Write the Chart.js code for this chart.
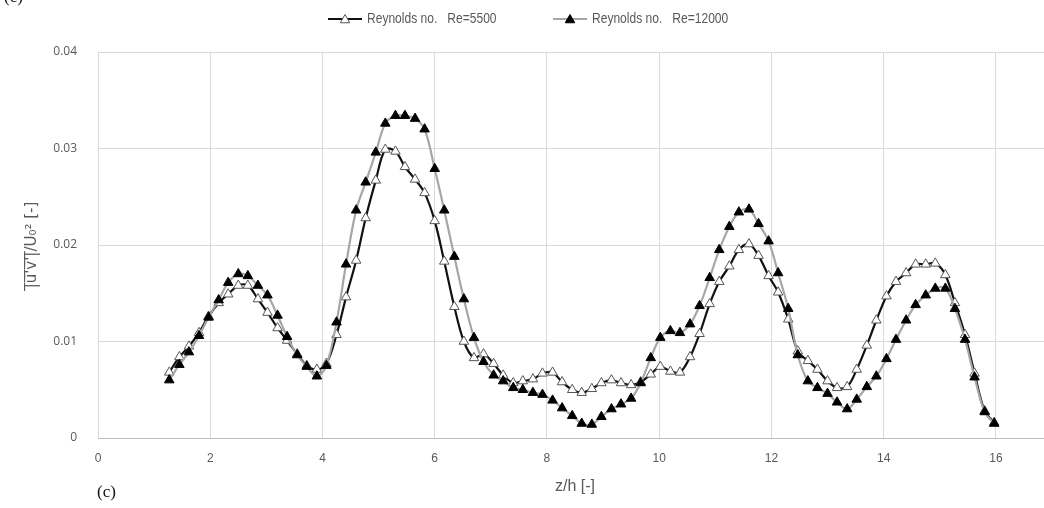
<!DOCTYPE html>
<html>
<head>
<meta charset="utf-8">
<script src="https://cdn.jsdelivr.net/npm/chart.js@4.4.1/dist/chart.umd.min.js"></script>
<style>
  html, body { margin: 0; padding: 0; background: #fff; overflow: hidden; width: 1044px; height: 508px; }
  #wrap { position: absolute; left: 0; top: 0; width: 1080px; height: 508px; }
  .lab { position: absolute; font-family: "Liberation Serif", "DejaVu Serif", serif; font-size: 17px; color: #111; }
</style>
</head>
<body>
<div id="wrap"><canvas id="c"></canvas></div>
<div class="lab" style="left:4px; top:-13px;">(c)</div>
<div class="lab" style="left:97px; top:482px;">(c)</div>
<script>
// ---- data ----
const zValues = [1.27,1.45,1.62,1.80,1.97,2.15,2.32,2.50,2.67,2.85,3.02,3.20,3.37,3.55,3.72,3.90,4.07,4.25,4.42,4.60,4.77,4.95,5.12,5.30,5.47,5.65,5.82,6.00,6.17,6.35,6.52,6.70,6.87,7.05,7.22,7.40,7.57,7.75,7.92,8.10,8.27,8.45,8.62,8.80,8.97,9.15,9.32,9.50,9.67,9.85,10.02,10.20,10.37,10.55,10.72,10.90,11.07,11.25,11.42,11.60,11.77,11.95,12.12,12.30,12.47,12.65,12.82,13.00,13.17,13.35,13.52,13.70,13.87,14.05,14.22,14.40,14.57,14.75,14.92,15.10,15.27,15.45,15.62,15.80,15.97];

const re5500 = [0.0068,0.0084,0.0095,0.0109,0.0126,0.0140,0.0149,0.0158,0.0158,0.0144,
  0.0130,0.0114,0.0101,0.0087,0.0075,0.0071,0.0077,0.0107,0.0146,0.0184,
  0.0228,0.0267,0.0299,0.0297,0.0281,0.0268,0.0254,0.0225,0.0183,0.0136,
  0.0100,0.0083,0.0087,0.0077,0.0065,0.0057,0.0059,0.0061,0.0067,0.0068,
  0.0058,0.0050,0.0047,0.0051,0.0057,0.0060,0.0057,0.0055,0.0058,0.0066,
  0.0074,0.0069,0.0068,0.0084,0.0108,0.0139,0.0162,0.0178,0.0195,0.0201,
  0.0189,0.0168,0.0151,0.0123,0.0090,0.0080,0.0071,0.0059,0.0052,0.0053,
  0.0071,0.0096,0.0122,0.0147,0.0162,0.0171,0.0180,0.0180,0.0181,0.0169,
  0.0140,0.0107,0.0067,0.0028,0.0016];

const re12000 = [0.0060,0.0076,0.0089,0.0106,0.0125,0.0143,0.0161,0.0170,0.0168,0.0158,
  0.0148,0.0127,0.0105,0.0086,0.0074,0.0064,0.0075,0.0120,0.0180,0.0236,
  0.0265,0.0296,0.0326,0.0334,0.0334,0.0331,0.0320,0.0279,0.0236,0.0188,
  0.0144,0.0104,0.0079,0.0065,0.0059,0.0052,0.0050,0.0047,0.0045,0.0039,
  0.0031,0.0023,0.0015,0.0014,0.0022,0.0030,0.0035,0.0041,0.0057,0.0083,
  0.0104,0.0111,0.0109,0.0118,0.0137,0.0166,0.0195,0.0219,0.0234,0.0237,
  0.0222,0.0204,0.0171,0.0134,0.0086,0.0059,0.0052,0.0046,0.0037,0.0030,
  0.0040,0.0053,0.0064,0.0082,0.0102,0.0122,0.0138,0.0148,0.0155,0.0155,
  0.0134,0.0102,0.0063,0.0027,0.0015];

const seriesLabels = ["Reynolds no.   Re=5500", "Reynolds no.   Re=12000"];
const xTickValues = [0, 2, 4, 6, 8, 10, 12, 14, 16];
const yTickValues = [0, 0.01, 0.02, 0.03, 0.04];
const xTitle = "z/h [-]";
const yTitle = "|\u0305u\u0305'\u0305v\u0305'\u0305|\u0305/U\u2080\u00B2 [-]";

// ---- chart ----
const TXT = "#595959";
const GRID = "#d9d9d9";

const legendPlugin = {
  id: 'customLegend',
  afterDraw(chart) {
    const ctx = chart.ctx;
    const slots = [328, 553];
    const y = 19;
    ctx.save();
    chart.data.datasets.forEach((ds, i) => {
      const x0 = slots[i];
      ctx.strokeStyle = ds.borderColor;
      ctx.lineWidth = 2;
      ctx.beginPath();
      ctx.moveTo(x0, y); ctx.lineTo(x0 + 34, y);
      ctx.stroke();
      ctx.fillStyle = ds.pointBackgroundColor;
      ctx.strokeStyle = ds.pointBorderColor;
      ctx.lineWidth = 1;
      ctx.beginPath();
      const r = 5.5;
      const cx = x0 + 17, cy = y + 1;
      ctx.moveTo(cx, cy - r);
      ctx.lineTo(cx + r * 0.866, cy + r * 0.5);
      ctx.lineTo(cx - r * 0.866, cy + r * 0.5);
      ctx.closePath();
      ctx.fill(); ctx.stroke();
      ctx.fillStyle = TXT;
      ctx.font = '14px "Liberation Sans", sans-serif';
      ctx.textBaseline = 'middle';
      ctx.textAlign = 'left';
      ctx.save();
      ctx.translate(x0 + 39, y);
      ctx.scale(0.86, 1);
      ctx.fillText(ds.label, 0, 0);
      ctx.restore();
    });
    ctx.restore();
  }
};

const toPts = (vals) => zValues.map((z, i) => ({ x: z, y: vals[i] }));

new Chart(document.getElementById('c'), {
  type: 'line',
  data: {
    datasets: [
      {
        label: seriesLabels[0],
        data: toPts(re5500),
        borderColor: '#111111',
        borderWidth: 2.2,
        pointStyle: 'triangle',
        pointRadius: 5.5,
        pointBackgroundColor: '#ffffff',
        pointBorderColor: '#555555',
        pointBorderWidth: 1,
        tension: 0.35,
        order: 2
      },
      {
        label: seriesLabels[1],
        data: toPts(re12000),
        borderColor: '#a6a6a6',
        borderWidth: 2.2,
        pointStyle: 'triangle',
        pointRadius: 5.5,
        pointBackgroundColor: '#000000',
        pointBorderColor: '#000000',
        pointBorderWidth: 1,
        tension: 0.35,
        order: 1
      }
    ]
  },
  options: {
    responsive: true,
    maintainAspectRatio: false,
    animation: false,
    layout: { padding: { left: 0, right: 28, top: 52, bottom: 0 } },
    plugins: { legend: { display: false }, tooltip: { enabled: false } },
    scales: {
      x: {
        type: 'linear',
        min: 0, max: 17,
        afterBuildTicks: (s) => { s.ticks = xTickValues.map(v => ({ value: v })); },
        afterFit: (s) => { s.height = 70; },
        ticks: {
          color: TXT, padding: 13, maxRotation: 0, autoSkip: false,
          font: { family: '"Liberation Sans", sans-serif', size: 12 }
        },
        grid: { color: GRID, drawTicks: false, tickLength: 0 },
        border: { color: '#bfbfbf', width: 1 },
        title: {
          display: true, text: xTitle, color: TXT,
          font: { family: '"Liberation Sans", sans-serif', size: 16 },
          padding: { top: 0, bottom: 12 }
        }
      },
      y: {
        type: 'linear',
        min: 0, max: 0.04,
        afterBuildTicks: (s) => { s.ticks = yTickValues.map(v => ({ value: v })); },
        afterFit: (s) => { s.width = 98; },
        ticks: {
          color: TXT, padding: 21,
          font: { family: '"Open Sans", sans-serif', size: 12 },
          callback: (v) => v === 0 ? '0' : Number(v).toFixed(2)
        },
        grid: { color: GRID, drawTicks: false, tickLength: 0 },
        border: { display: false },
        title: {
          display: true, text: yTitle, color: TXT,
          font: { family: '"DejaVu Sans", sans-serif', size: 15 },
          padding: { top: 23, bottom: 0 }
        }
      }
    }
  },
  plugins: [legendPlugin]
});
</script>
</body>
</html>
